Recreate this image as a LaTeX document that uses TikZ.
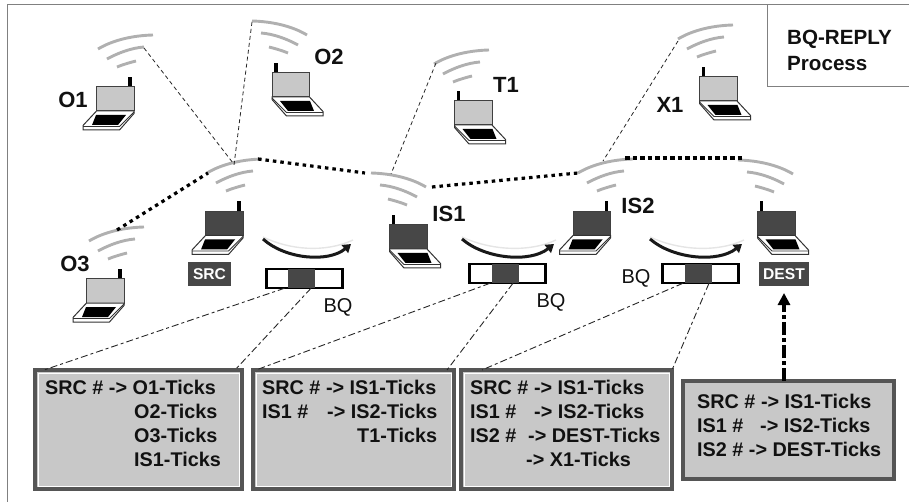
\documentclass[tikz,border=0pt]{standalone}
\usepackage{fontspec}
\setmainfont{Liberation Sans}
\usetikzlibrary{arrows.meta,calc}
\definecolor{screenlight}{HTML}{C8C8C8}
\definecolor{screendark}{HTML}{474747}
\definecolor{wave}{HTML}{B0B0B0}
\definecolor{boxedge}{HTML}{555555}
\definecolor{frameline}{HTML}{808080}
\definecolor{ink}{HTML}{111111}
\tikzset{
  pics/lap/.style={code={
    \draw[black,line width=3.4] (33.5,-24) -- (33.5,-34);
    \draw[fill=#1,draw=black!75,line width=1] (0,0) rectangle (37.5,-24);
    \draw[fill=white,draw=black!80,line width=1] (0,0) -- (37.5,0) -- (37.5,2.5) -- (23,19) -- (-13.5,19) -- (-13.5,14.5) -- cycle;
    \draw[draw=black!80,line width=.8] (-13.5,15.5) -- (23,15.5) -- (37.5,1);
    \fill[black] (-0.5,4) -- (29.5,4) -- (21.5,14) -- (-4.5,14) -- cycle;
  }},
  pics/waves/.style={code={
    \draw[wave,line width=2.9] (0,0) .. controls (15,-9) and (35,-13.5) .. (55,-14);
    \draw[wave,line width=2.9] (9,10) .. controls (20,4) and (33,-1) .. (46,-2);
    \draw[wave,line width=2.9] (19,18) .. controls (25,15.5) and (32,13.5) .. (38,12);
  }},
  thindash/.style={draw=black!85,line width=.8,dash pattern=on 4pt off 3pt},
  longdash/.style={draw=black!85,line width=.9,dash pattern=on 7pt off 3pt on 3pt off 3pt},
  heavydot/.style={draw=black,line width=3.2,dash pattern=on 3.5pt off 4pt},
  heavydotb/.style={draw=black,line width=3.6,dash pattern=on 4.5pt off 3pt},
  flowarc/.style={draw=black!90,line width=3,-{Triangle[length=8pt,width=10pt]}},
  flowhalo/.style={draw=black!10,line width=1.4},
  tag/.style={fill=screendark,text=white,font=\fontsize{15.6}{18}\selectfont\bfseries,inner sep=0,outer sep=0,minimum height=24pt},
  callout/.style={draw=boxedge,fill=screenlight,line width=3.6,inner sep=0,outer sep=0},
  highlight/.style={draw=white,line width=1},
  calloutext/.style={anchor=north west,align=left,inner sep=0,text=ink,font=\fontsize{19.8}{24}\selectfont\bfseries},
  stationlabel/.style={text=ink,font=\fontsize{22}{24}\selectfont\bfseries,inner sep=0},
  bqlabel/.style={text=ink,font=\fontsize{20}{24}\selectfont,inner sep=0},
  buffer/.style={draw=black,fill=white,line width=2.4,inner sep=0,outer sep=0,minimum width=76pt,minimum height=19.5pt},
  buffermid/.style={fill=screendark,inner sep=0,outer sep=0,minimum width=27pt,minimum height=19.5pt},
}
\begin{document}
\begin{tikzpicture}[x=1pt,y=-1pt]
\useasboundingbox (0,0) rectangle (909,502);
% frame
\draw[frameline,line width=1] (7,502) -- (7,5) -- (909,5);
\draw[frameline,line width=1] (767,5) -- (767,87) -- (909,87);
\node[anchor=west,inner sep=0,text=ink,font=\fontsize{20.6}{26}\selectfont\bfseries,align=left] (title) at (787,50) {BQ-REPLY\\Process};
% radio waves
\pic at (98,49) {waves};
\pic[xscale=-1] at (307,35) {waves};
\pic at (434,64) {waves};
\pic at (678,39) {waves};
\pic at (207,173) {waves};
\pic[xscale=-1] at (426,187) {waves};
\pic at (578,173) {waves};
\pic[xscale=-1] at (793,174) {waves};
\pic at (89,241) {waves};
% connector end points at the radio waves
\coordinate (o1w) at (144,48);
\coordinate (o2w) at (252,22);
\coordinate (t1w) at (436,63);
\coordinate (x1w) at (678,41);
\coordinate (srcin) at (233,163);
\coordinate (srcin2) at (234,165);
\coordinate (is1in) at (391,174);
\coordinate (is2in) at (603,161);
\coordinate (o3r) at (117,230);
\coordinate (srcl) at (208,173);
\coordinate (srcr) at (258,159);
\coordinate (is1l) at (365,173);
\coordinate (is1r) at (432,187);
\coordinate (is2l) at (578,173);
\coordinate (is2r) at (625,158);
\coordinate (destl) at (743,158);
\draw[thindash] (o1w) -- (srcin);
\draw[thindash] (o2w) -- (srcin2);
\draw[thindash] (t1w) -- (is1in);
\draw[thindash] (x1w) -- (is2in);
\draw[heavydot] (o3r) -- (srcl);
\draw[heavydot] (srcr) -- (is1l);
\draw[heavydot] (is1r) -- (is2l);
\draw[heavydotb] (is2r) -- (destl);
% laptops
\pic at (96.5,111) {lap=screenlight};
\pic[xscale=-1] at (309.5,97) {lap=screenlight};
\pic[xscale=-1] at (492,125) {lap=screenlight};
\pic[xscale=-1] at (737,101) {lap=screenlight};
\pic at (86.5,303) {lap=screenlight};
\pic at (205.5,235.5) {lap=screendark};
\pic[xscale=-1] at (427,249) {lap=screendark};
\pic at (573,235.5) {lap=screendark};
\pic[xscale=-1] at (795,235.5) {lap=screendark};
% station labels
\node[stationlabel] (lo1) at (73,100) {O1};
\node[stationlabel] (lo2) at (329,57) {O2};
\node[stationlabel] (lt1) at (506,85) {T1};
\node[stationlabel] (lx1) at (670,105) {X1};
\node[stationlabel] (lo3) at (75,264) {O3};
\node[stationlabel] (lis1) at (449,214) {IS1};
\node[stationlabel] (lis2) at (638,206) {IS2};
\node[tag,minimum width=43pt] (src) at (209.5,274) {SRC};
\node[tag,minimum width=50pt] (dest) at (784,274) {DEST};
% flow arcs
\coordinate (fa1) at (263,239); \coordinate (fb1) at (351,244);
\coordinate (fa2) at (462,239); \coordinate (fb2) at (554,244);
\coordinate (fa3) at (650,239); \coordinate (fb3) at (742,244);
\draw[flowhalo] (263,237) .. controls (290,250) and (325,253) .. (353,240);
\draw[flowhalo] (462,237) .. controls (490,250) and (528,253) .. (556,240);
\draw[flowhalo] (650,237) .. controls (678,250) and (716,253) .. (744,240);
\draw[flowarc] (fa1) .. controls (285,259) and (328,263) .. (fb1);
\draw[flowarc] (fa2) .. controls (485,259) and (530,263) .. (fb2);
\draw[flowarc] (fa3) .. controls (673,259) and (718,263) .. (fb3);
% buffers
\node[buffer] (buf1) at (304.5,278.5) {};
\node[buffermid] (mid1) at (301.5,278.5) {};
\node[buffer] (buf2) at (507.5,273.5) {};
\node[buffermid] (mid2) at (505,273.5) {};
\node[buffer] (buf3) at (700.5,273.5) {};
\node[buffermid] (mid3) at (698.5,273.5) {};
\node[bqlabel] (bq1) at (338,307) {BQ};
\node[bqlabel] (bq2) at (551,302) {BQ};
\node[bqlabel] (bq3) at (636,278) {BQ};
% call-outs
\node[callout,minimum width=207pt,minimum height=119pt] (box1) at (138.5,429.5) {};
\node[callout,minimum width=201pt,minimum height=119pt] (box2) at (353.5,429.5) {};
\node[callout,minimum width=211pt,minimum height=119pt] (box3) at (566.5,429.5) {};
\node[callout,minimum width=211pt,minimum height=98pt] (box4) at (788.5,430) {};
\draw[highlight] ([shift={(3,3)}]box1.north west) rectangle ([shift={(-3,-3)}]box1.south east);
\draw[highlight] ([shift={(3,3)}]box2.north west) rectangle ([shift={(-3,-3)}]box2.south east);
\draw[highlight] ([shift={(3,3)}]box3.north west) rectangle ([shift={(-3,-3)}]box3.south east);
\node[calloutext] (t1) at (45,380) {SRC \# -> O1-Ticks\\\hspace*{89pt}O2-Ticks\\\hspace*{89pt}O3-Ticks\\\hspace*{89pt}IS1-Ticks};
\node[calloutext] (t2) at (262,380) {SRC \# -> IS1-Ticks\\\makebox[65pt][l]{IS1 \#}-> IS2-Ticks\\\hspace*{95pt}T1-Ticks};
\node[calloutext] (t3) at (470,380) {SRC \# -> IS1-Ticks\\\makebox[64pt][l]{IS1 \#}-> IS2-Ticks\\\makebox[58pt][l]{IS2 \#}-> DEST-Ticks\\\hspace*{56pt}-> X1-Ticks};
\node[calloutext] (t4) at (697,394) {SRC \# -> IS1-Ticks\\\makebox[63pt][l]{IS1 \#}-> IS2-Ticks\\IS2 \# -> DEST-Ticks};
% connectors to call-outs
\draw[longdash] ([xshift=-20]buf1.south) -- ([xshift=9]box1.north west);
\draw[longdash] ([xshift=6.5]buf1.south) -- ([xshift=-7]box1.north east);
\draw[longdash] ([xshift=-17.5]buf2.south) -- ([xshift=3]box2.north west);
\draw[longdash] ([xshift=5.5]buf2.south) -- ([xshift=-7]box2.north east);
\draw[longdash] ([xshift=-17.5]buf3.south) -- ([xshift=21]box3.north west);
\draw[longdash] ([xshift=8.5]buf3.south) -- (box3.north east);
\draw[draw=black,line width=3.6,dash pattern=on 13pt off 3pt on 4pt off 3pt,-{Triangle[length=12pt,width=12pt]}] (box4.north -| dest.center) -- ([yshift=-7]dest.south);
\end{tikzpicture}
\end{document}
